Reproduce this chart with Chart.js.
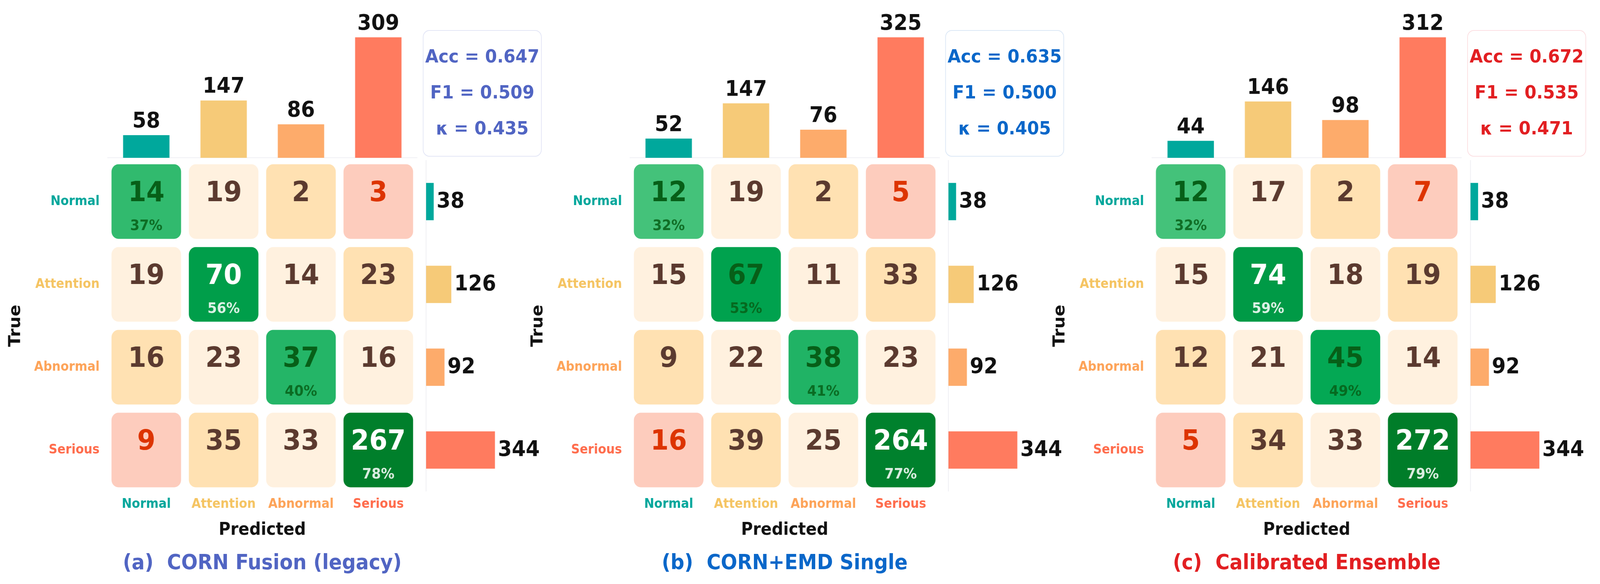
<!DOCTYPE html>
<html>
<head>
<meta charset="utf-8">
<script src="https://cdn.jsdelivr.net/npm/chart.js@4.4.1/dist/chart.umd.min.js"></script>
<style>
  html, body { margin: 0; padding: 0; background: #fff; overflow: hidden; }
  #stage { position: absolute; left: 0; top: 0; width: 4386px; height: 1495px; transform-origin: 0 0; font-family: "DejaVu Sans", sans-serif; }
  canvas { position: absolute; }
  .metric { position: absolute; border: 2px solid; border-radius: 18px; box-sizing: border-box; background: #fff; }
  .metric div { position: absolute; left: 0; width: 100%; text-align: center; font-weight: bold; font-size: 47px; line-height: 47px; white-space: pre; }
  .ptitle { position: absolute; font-weight: bold; font-size: 53px; line-height: 53px; white-space: pre; transform: translate(-50%, -50%); }
</style>
</head>
<body>
<div id="stage"></div>
<script>
// ---- data ----
const classes = ["Normal", "Attention", "Abnormal", "Serious"];
const panelTitles = ["(a)  CORN Fusion (legacy)", "(b)  CORN+EMD Single", "(c)  Calibrated Ensemble"];

// rows = true class, cols = predicted class
const cmLegacy   = [[14, 19, 2, 3], [19, 70, 14, 23], [16, 23, 37, 16], [9, 35, 33, 267]];
const cmSingle   = [[12, 19, 2, 5], [15, 67, 11, 33], [9, 22, 38, 23], [16, 39, 25, 264]];
const cmEnsemble = [[12, 17, 2, 7], [15, 74, 18, 19], [12, 21, 45, 14], [5, 34, 33, 272]];

const predTotalsLegacy   = [58, 147, 86, 309];
const predTotalsSingle   = [52, 147, 76, 325];
const predTotalsEnsemble = [44, 146, 98, 312];
const trueTotals = [38, 126, 92, 344];

const accValues   = [0.647, 0.635, 0.672];
const f1Values    = [0.509, 0.500, 0.535];
const kappaValues = [0.435, 0.405, 0.471];

// ---- styles ----
const labelColors = ['#00A69B', '#F5C462', '#FDA358', '#FF6C4C'];
const barColors   = ['#00A89C', '#F6CA78', '#FDAB6B', '#FF7B5F'];
const panelColors = ['#5165C3', '#0A67C9', '#E21F22'];
const boxBorders  = ['#E3E6F6', '#DCE8F6', '#FCE0E3'];
const offDiag     = [null, '#FFF1DF', '#FFE1B2', '#FDCCBD'];
const panelX      = [0, 1432, 2863];

// the drawing is laid out on a 4386x1495 stage, stretched to the viewport
const stage = document.getElementById('stage');
const sx = window.innerWidth / 4386, sy = window.innerHeight / 1495;
stage.style.transform = 'scale(' + sx + ',' + sy + ')';
document.body.style.width = window.innerWidth + 'px';
document.body.style.height = window.innerHeight + 'px';
const pixelRatio = (window.devicePixelRatio || 1) * Math.max(sx, sy);

Chart.defaults.font.family = '"DejaVu Sans", sans-serif';
Chart.defaults.font.weight = 'bold';
Chart.defaults.animation = false;
Chart.defaults.plugins.legend.display = false;
Chart.defaults.plugins.tooltip.enabled = false;

function greenFor(p) {
  const stops = [[0.30, [74, 196, 125]], [0.50, [0, 166, 82]], [0.80, [0, 124, 40]]];
  if (p <= stops[0][0]) return 'rgb(' + stops[0][1].join(',') + ')';
  for (let i = 1; i < stops.length; i++) {
    if (p <= stops[i][0] || i === stops.length - 1) {
      const [p0, c0] = stops[i - 1], [p1, c1] = stops[i];
      const t = Math.min(1, (p - p0) / (p1 - p0));
      return 'rgb(' + c0.map((v, k) => Math.round(v + (c1[k] - v) * t)).join(',') + ')';
    }
  }
}

function makeCanvas(left, top, w, h) {
  const c = document.createElement('canvas');
  c.style.left = left + 'px'; c.style.top = top + 'px';
  c.style.width = w + 'px'; c.style.height = h + 'px';
  c.width = w; c.height = h;
  stage.appendChild(c);
  return c.getContext('2d');
}

// value labels on the marginal bars
const barLabels = {
  id: 'barLabels',
  afterDatasetsDraw(chart, args, opts) {
    const ctx = chart.ctx;
    const values = chart.data.datasets[0].data;
    ctx.save();
    ctx.font = 'bold 55px "DejaVu Sans"';
    ctx.fillStyle = '#111';
    chart.getDatasetMeta(0).data.forEach((el, i) => {
      if (opts.horizontal) {
        ctx.textAlign = 'left';
        ctx.fillText(String(values[i]), el.x + 8, el.y + 15);
      } else {
        ctx.textAlign = 'center';
        ctx.fillText(String(values[i]), el.x, el.y - 20);
      }
    });
    ctx.restore();
  }
};

// counts and recall inside the matrix cells
const cellText = {
  id: 'cellText',
  afterDatasetsDraw(chart, args, opts) {
    const ctx = chart.ctx;
    const cm = opts.cm, rows = opts.rows;
    ctx.save();
    ctx.textAlign = 'center';
    chart.getDatasetMeta(0).data.forEach((el, i) => {
      const r = Math.floor(i / 4), c = i % 4;
      const v = cm[r][c];
      const {x, y} = el.getCenterPoint();
      let col, pctCol, p = v / rows[r];
      if (r === c) {
        col = p >= 0.55 ? '#FFFFFF' : '#075F18';
        pctCol = p >= 0.55 ? 'rgba(255,255,255,0.86)' : 'rgba(7,95,24,0.85)';
      } else {
        col = Math.abs(r - c) === 3 ? '#DD3400' : '#5B3A2F';
      }
      ctx.font = 'bold 72px "DejaVu Sans"';
      ctx.fillStyle = col;
      ctx.fillText(String(v), x, y - 1);
      if (r === c) {
        ctx.font = 'bold 37px "DejaVu Sans"';
        ctx.fillStyle = pctCol;
        ctx.fillText(Math.round(p * 100) + '%', x, y + 73);
      }
    });
    ctx.restore();
  }
};

const fixedTicks = s => { s.ticks = [0, 1, 2, 3].map(v => ({value: v})); };

const panels = [
  {cm: cmLegacy, pred: predTotalsLegacy},
  {cm: cmSingle, pred: predTotalsSingle},
  {cm: cmEnsemble, pred: predTotalsEnsemble}
];

panels.forEach((pan, k) => {
  const px = panelX[k];

  // top marginal: predicted totals
  new Chart(makeCanvas(px, 0, 1150, 405), {
    type: 'bar',
    data: { labels: classes, datasets: [{ data: pan.pred, backgroundColor: barColors, barPercentage: 0.6, categoryPercentage: 1 }] },
    options: {
      responsive: false, devicePixelRatio: pixelRatio, events: [],
      layout: { padding: { left: 295, right: 7, top: 0, bottom: 1 } },
      scales: {
        x: { grid: { display: false, drawTicks: false }, ticks: { display: false }, border: { color: '#EBEBF1', width: 1.5 },
             afterFit: s => { s.height = 0; s.paddingLeft = 0; s.paddingRight = 0; } },
        y: { display: false, min: 0, max: Math.max(...pan.pred) * 1.31 }
      },
      plugins: { barLabels: { horizontal: false } }
    },
    plugins: [barLabels]
  });

  // confusion matrix as floating rounded bars
  const cells = [];
  pan.cm.forEach((row, r) => row.forEach((v, c) => cells.push({ x: c, y: [r - 0.45, r + 0.45] })));
  new Chart(makeCanvas(px, 400, 1150, 1000), {
    type: 'bar',
    data: {
      datasets: [{
        data: cells,
        grouped: false,
        barPercentage: 0.9, categoryPercentage: 1,
        borderRadius: 19, borderSkipped: false, inflateAmount: 0,
        backgroundColor: ctx => {
          const r = Math.floor(ctx.dataIndex / 4), c = ctx.dataIndex % 4;
          if (r === c) return greenFor(pan.cm[r][c] / trueTotals[r]);
          return offDiag[Math.abs(r - c)];
        }
      }]
    },
    options: {
      responsive: false, devicePixelRatio: pixelRatio, events: [],
      layout: { padding: { top: 10, right: 7 } },
      scales: {
        x: {
          type: 'linear', min: -0.5, max: 3.5, offset: false,
          grid: { display: false, drawTicks: false, offset: false }, border: { display: false },
          afterBuildTicks: fixedTicks,
          ticks: { padding: 14, font: { size: 33, weight: 'bold' }, color: ctx => labelColors[ctx.index], callback: v => classes[v] },
          title: { display: true, text: 'Predicted', color: '#111', font: { size: 44, weight: 'bold' }, padding: { top: 0, bottom: 16 } },
          afterFit: s => { s.height = 142; s.paddingLeft = 0; s.paddingRight = 0; }
        },
        y: {
          type: 'linear', min: -0.5, max: 3.5, reverse: true, offset: false,
          grid: { display: false, drawTicks: false }, border: { display: false },
          afterBuildTicks: fixedTicks,
          ticks: { padding: 22, font: { size: 33, weight: 'bold' }, color: ctx => labelColors[ctx.index], callback: v => classes[v] },
          title: { display: true, text: 'True', color: '#111', font: { size: 44, weight: 'bold' }, padding: { top: 17, bottom: 0 } },
          afterFit: s => { s.width = 295; s.paddingTop = 0; s.paddingBottom = 0; }
        }
      },
      plugins: { cellText: { cm: pan.cm, rows: trueTotals } }
    },
    plugins: [cellText]
  });

  // right marginal: true totals
  new Chart(makeCanvas(px + 1160, 410, 340, 848), {
    type: 'bar',
    data: { labels: classes, datasets: [{ data: trueTotals, backgroundColor: barColors, barPercentage: 0.45, categoryPercentage: 1 }] },
    options: {
      indexAxis: 'y',
      responsive: false, devicePixelRatio: pixelRatio, events: [],
      layout: { padding: { left: 8, right: 30 } },
      scales: {
        y: { grid: { display: false, drawTicks: false }, ticks: { display: false }, border: { color: '#E8E8EE', width: 1.5 },
             afterFit: s => { s.width = 0; s.paddingTop = 0; s.paddingBottom = 0; } },
        x: { display: false, min: 0, max: Math.max(...trueTotals) * 1.6 }
      },
      plugins: { barLabels: { horizontal: true } }
    },
    plugins: [barLabels]
  });

  // metrics box
  const box = document.createElement('div');
  box.className = 'metric';
  Object.assign(box.style, { left: (px + 1159) + 'px', top: '77px', width: '326px', height: '324px', borderColor: boxBorders[k], color: panelColors[k] });
  [['Acc = ', accValues[k]], ['F1 = ', f1Values[k]], ['\u03ba = ', kappaValues[k]]].forEach(([name, val], j) => {
    const line = document.createElement('div');
    line.textContent = name + val.toFixed(3);
    line.style.top = (41 + j * 92) + 'px';
    box.appendChild(line);
  });
  stage.appendChild(box);

  // panel title
  const t = document.createElement('div');
  t.className = 'ptitle';
  t.textContent = panelTitles[k];
  Object.assign(t.style, { left: (px + 719) + 'px', top: '1438px', color: panelColors[k] });
  stage.appendChild(t);
});
</script>
</body>
</html>
